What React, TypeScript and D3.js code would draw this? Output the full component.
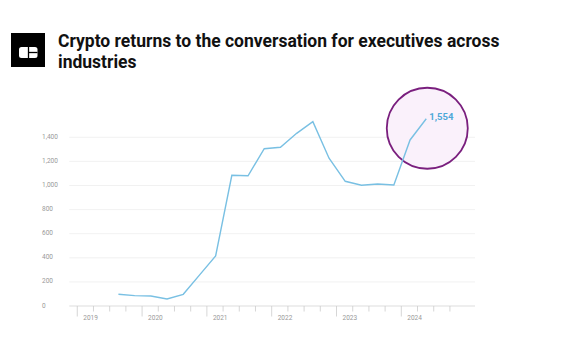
import React, { useEffect, useRef } from "react";
import * as d3 from "d3";

// quarterly counts, one point per quarter (plotted mid-quarter)
const quarters = [
  "2019-Q3", "2019-Q4",
  "2020-Q1", "2020-Q2", "2020-Q3", "2020-Q4",
  "2021-Q1", "2021-Q2", "2021-Q3", "2021-Q4",
  "2022-Q1", "2022-Q2", "2022-Q3", "2022-Q4",
  "2023-Q1", "2023-Q2", "2023-Q3", "2023-Q4",
  "2024-Q1", "2024-Q2",
];
const mentions = [
  97, 86,
  83, 58, 97, 256,
  415, 1085, 1081, 1305,
  1317, 1433, 1530, 1226,
  1035, 1002, 1012, 1004,
  1378, 1554,
];
const yTicks = [0, 200, 400, 600, 800, 1000, 1200, 1400];
const yearTicks = [2019, 2020, 2021, 2022, 2023, 2024];

const title1 = "Crypto returns to the conversation for executives across";
const title2 = "industries";

const toYear = (q: string) => {
  const [y, qq] = q.split("-Q");
  return +y + (+qq - 1) / 4 + 0.135;
};

const App = () => {
  const ref = useRef<SVGSVGElement>(null);

  useEffect(() => {
    const svg = d3.select(ref.current);
    svg.selectAll("*").remove();

    const x = d3.scaleLinear().domain([2018.877, 2025.137]).range([69.3, 475]);
    const y = d3.scaleLinear().domain([0, 1400]).range([306, 137.3]);

    // header
    const logo = svg.append("g");
    logo.append("rect").attr("x", 11).attr("y", 33).attr("width", 34).attr("height", 34).attr("fill", "#000");
    logo.append("rect").attr("x", 19).attr("y", 47).attr("width", 18.5).attr("height", 11).attr("rx", 2.5).attr("fill", "#fff");
    logo.append("line").attr("x1", 28.5).attr("x2", 28.5).attr("y1", 47).attr("y2", 58).attr("stroke", "#000").attr("stroke-width", 1.3);
    logo.append("line").attr("x1", 28.5).attr("x2", 37.5).attr("y1", 52.5).attr("y2", 52.5).attr("stroke", "#000").attr("stroke-width", 1.3);

    const title = svg.append("text")
      .attr("font-family", "Roboto, sans-serif")
      .attr("font-weight", 700)
      .attr("font-size", 17.5)
      .attr("fill", "#111");
    title.append("tspan").attr("x", 58).attr("y", 47).text(title1);
    title.append("tspan").attr("x", 58).attr("y", 68).text(title2);

    // gridlines + y labels
    const grid = svg.append("g");
    grid.selectAll("line")
      .data(yTicks.filter(d => d > 0))
      .join("line")
      .attr("x1", 69.3).attr("x2", 475)
      .attr("y1", d => y(d)).attr("y2", d => y(d))
      .attr("stroke", "#eeeeee").attr("stroke-width", 0.8);
    grid.selectAll("text")
      .data(yTicks)
      .join("text")
      .attr("x", 42)
      .attr("y", d => y(d) + 1.5)
      .attr("font-family", "Roboto, sans-serif")
      .attr("font-size", 6.5)
      .attr("fill", "#999")
      .text(d => d3.format(",")(d));

    // x axis
    const xa = svg.append("g");
    xa.append("line").attr("x1", 69.3).attr("x2", 475).attr("y1", 306).attr("y2", 306)
      .attr("stroke", "#dddddd").attr("stroke-width", 1);
    const minor = d3.range(2019, 2025.01, 0.25).filter(v => v % 1 !== 0);
    xa.selectAll("line.minor")
      .data(minor)
      .join("line")
      .attr("class", "minor")
      .attr("x1", d => x(d)).attr("x2", d => x(d))
      .attr("y1", 306).attr("y2", 311.5)
      .attr("stroke", "#cccccc").attr("stroke-width", 0.8);
    xa.selectAll("line.major")
      .data(yearTicks)
      .join("line")
      .attr("class", "major")
      .attr("x1", d => x(d)).attr("x2", d => x(d))
      .attr("y1", 306).attr("y2", 316.5)
      .attr("stroke", "#cccccc").attr("stroke-width", 0.8);
    xa.selectAll("text")
      .data(yearTicks)
      .join("text")
      .attr("x", d => x(d) + 6)
      .attr("y", 320)
      .attr("font-family", "Roboto, sans-serif")
      .attr("font-size", 6.5)
      .attr("fill", "#999")
      .text(d => d);

    // highlight circle
    const lastQ = quarters[quarters.length - 1];
    const lastV = mentions[mentions.length - 1];
    svg.append("circle")
      .attr("cx", x(toYear(lastQ)) + 1)
      .attr("cy", y(lastV) + 9.5)
      .attr("r", 40.5)
      .attr("fill", "#faf1fb")
      .attr("stroke", "#7a1f7e")
      .attr("stroke-width", 1.8);

    // line
    const line = d3.line<number>()
      .x((d, i) => x(toYear(quarters[i])))
      .y(d => y(d));
    svg.append("path")
      .datum(mentions)
      .attr("d", line)
      .attr("fill", "none")
      .attr("stroke", "#79c0e3")
      .attr("stroke-width", 1.4);

    svg.append("text")
      .attr("x", x(toYear(lastQ)) + 3)
      .attr("y", y(lastV) + 1)
      .attr("font-family", "Roboto, sans-serif")
      .attr("font-weight", 700)
      .attr("font-size", 9.5)
      .attr("fill", "#4ea8d8")
      .text(d3.format(",")(lastV));
  }, []);

  return (
    <svg ref={ref} width={572} height={364} style={{ position: "absolute", left: 0, top: 0, background: "#fff" }} />
  );
};

export default App;
